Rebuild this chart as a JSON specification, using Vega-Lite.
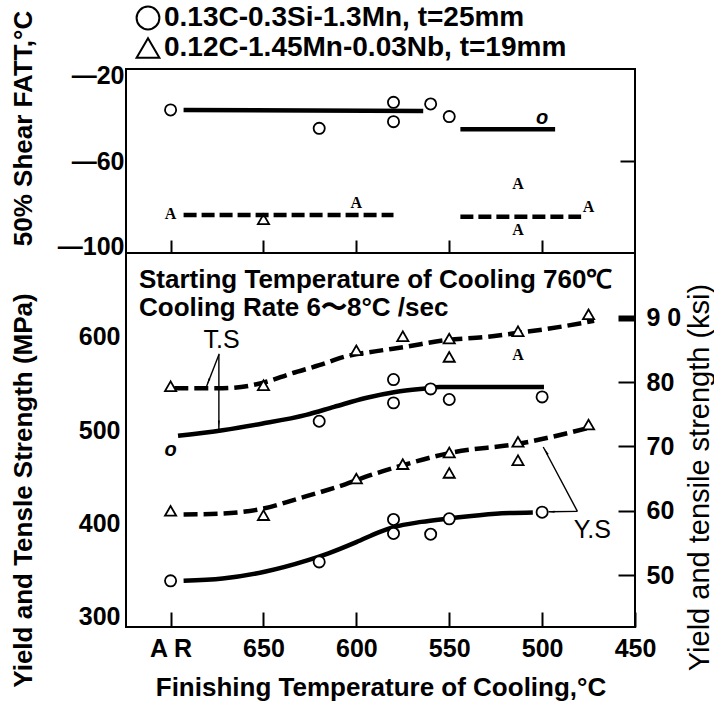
{
  "$schema": "https://vega.github.io/schema/vega-lite/v6.json",
  "background": "white",
  "padding": {"left": 8, "top": 3, "right": 2, "bottom": 1},
  "spacing": 0,
  "bounds": "flush",
  "config": {
    "view": {"stroke": "black", "strokeWidth": 2},
    "axis": {
      "grid": false,
      "domainColor": "black",
      "domainWidth": 2,
      "tickColor": "black",
      "labelColor": "black",
      "titleColor": "black",
      "labelFlush": false,
      "labelOverlap": false
    }
  },
  "datasets": {
    "fattPts": [
      {"steel": "0.13C-0.3Si-1.3Mn, t=25mm", "T": 700, "fatt": -37.8},
      {"steel": "0.13C-0.3Si-1.3Mn, t=25mm", "T": 620, "fatt": -45.8},
      {"steel": "0.13C-0.3Si-1.3Mn, t=25mm", "T": 580, "fatt": -34.5},
      {"steel": "0.13C-0.3Si-1.3Mn, t=25mm", "T": 580, "fatt": -42.9},
      {"steel": "0.13C-0.3Si-1.3Mn, t=25mm", "T": 560, "fatt": -35.2},
      {"steel": "0.13C-0.3Si-1.3Mn, t=25mm", "T": 550, "fatt": -40.7},
      {"steel": "0.13C-0.3Si-1.3Mn, t=25mm", "T": 500, "fatt": -41.4, "glyph": "o"},
      {"steel": "0.12C-1.45Mn-0.03Nb, t=19mm", "T": 700, "fatt": -83.2, "glyph": "A"},
      {"steel": "0.12C-1.45Mn-0.03Nb, t=19mm", "T": 650, "fatt": -85.3},
      {"steel": "0.12C-1.45Mn-0.03Nb, t=19mm", "T": 600, "fatt": -78.1, "glyph": "A"},
      {"steel": "0.12C-1.45Mn-0.03Nb, t=19mm", "T": 513, "fatt": -70.1, "glyph": "A"},
      {"steel": "0.12C-1.45Mn-0.03Nb, t=19mm", "T": 513, "fatt": -90.0, "glyph": "A"},
      {"steel": "0.12C-1.45Mn-0.03Nb, t=19mm", "T": 475, "fatt": -79.9, "glyph": "A"}
    ],
    "fattLines": [
      {"steel": "0.13C-0.3Si-1.3Mn, t=25mm", "seg": "C1", "T": 693, "fatt": -37.8},
      {"steel": "0.13C-0.3Si-1.3Mn, t=25mm", "seg": "C1", "T": 564, "fatt": -38.3},
      {"steel": "0.13C-0.3Si-1.3Mn, t=25mm", "seg": "C2", "T": 544, "fatt": -46.2},
      {"steel": "0.13C-0.3Si-1.3Mn, t=25mm", "seg": "C2", "T": 493, "fatt": -46.2},
      {"steel": "0.12C-1.45Mn-0.03Nb, t=19mm", "seg": "N1", "T": 693, "fatt": -83.5},
      {"steel": "0.12C-1.45Mn-0.03Nb, t=19mm", "seg": "N1", "T": 580, "fatt": -83.5},
      {"steel": "0.12C-1.45Mn-0.03Nb, t=19mm", "seg": "N2", "T": 544, "fatt": -84.2},
      {"steel": "0.12C-1.45Mn-0.03Nb, t=19mm", "seg": "N2", "T": 479, "fatt": -84.2}
    ],
    "strPts": [
      {"steel": "0.13C-0.3Si-1.3Mn, t=25mm", "prop": "TS", "T": 700, "mpa": 479.3, "glyph": "o"},
      {"steel": "0.13C-0.3Si-1.3Mn, t=25mm", "prop": "TS", "T": 620, "mpa": 509.6},
      {"steel": "0.13C-0.3Si-1.3Mn, t=25mm", "prop": "TS", "T": 580, "mpa": 554.3},
      {"steel": "0.13C-0.3Si-1.3Mn, t=25mm", "prop": "TS", "T": 580, "mpa": 529.3},
      {"steel": "0.13C-0.3Si-1.3Mn, t=25mm", "prop": "TS", "T": 560, "mpa": 544.3},
      {"steel": "0.13C-0.3Si-1.3Mn, t=25mm", "prop": "TS", "T": 550, "mpa": 532.9},
      {"steel": "0.13C-0.3Si-1.3Mn, t=25mm", "prop": "TS", "T": 500, "mpa": 535.7},
      {"steel": "0.12C-1.45Mn-0.03Nb, t=19mm", "prop": "TS", "T": 700, "mpa": 547.2},
      {"steel": "0.12C-1.45Mn-0.03Nb, t=19mm", "prop": "TS", "T": 650, "mpa": 548.2},
      {"steel": "0.12C-1.45Mn-0.03Nb, t=19mm", "prop": "TS", "T": 600, "mpa": 585.7},
      {"steel": "0.12C-1.45Mn-0.03Nb, t=19mm", "prop": "TS", "T": 575, "mpa": 600.8},
      {"steel": "0.12C-1.45Mn-0.03Nb, t=19mm", "prop": "TS", "T": 550, "mpa": 598.3},
      {"steel": "0.12C-1.45Mn-0.03Nb, t=19mm", "prop": "TS", "T": 550, "mpa": 578.6},
      {"steel": "0.12C-1.45Mn-0.03Nb, t=19mm", "prop": "TS", "T": 513, "mpa": 606.1},
      {"steel": "0.12C-1.45Mn-0.03Nb, t=19mm", "prop": "TS", "T": 513, "mpa": 580.4, "glyph": "A"},
      {"steel": "0.12C-1.45Mn-0.03Nb, t=19mm", "prop": "TS", "T": 475, "mpa": 624.3},
      {"steel": "0.13C-0.3Si-1.3Mn, t=25mm", "prop": "YS", "T": 700, "mpa": 338.5},
      {"steel": "0.13C-0.3Si-1.3Mn, t=25mm", "prop": "YS", "T": 620, "mpa": 358.8},
      {"steel": "0.13C-0.3Si-1.3Mn, t=25mm", "prop": "YS", "T": 580, "mpa": 404.3},
      {"steel": "0.13C-0.3Si-1.3Mn, t=25mm", "prop": "YS", "T": 580, "mpa": 389.3},
      {"steel": "0.13C-0.3Si-1.3Mn, t=25mm", "prop": "YS", "T": 560, "mpa": 388.5},
      {"steel": "0.13C-0.3Si-1.3Mn, t=25mm", "prop": "YS", "T": 550, "mpa": 405.0},
      {"steel": "0.13C-0.3Si-1.3Mn, t=25mm", "prop": "YS", "T": 500, "mpa": 412.1},
      {"steel": "0.12C-1.45Mn-0.03Nb, t=19mm", "prop": "YS", "T": 700, "mpa": 413.5},
      {"steel": "0.12C-1.45Mn-0.03Nb, t=19mm", "prop": "YS", "T": 650, "mpa": 408.9},
      {"steel": "0.12C-1.45Mn-0.03Nb, t=19mm", "prop": "YS", "T": 600, "mpa": 448.2},
      {"steel": "0.12C-1.45Mn-0.03Nb, t=19mm", "prop": "YS", "T": 575, "mpa": 463.6},
      {"steel": "0.12C-1.45Mn-0.03Nb, t=19mm", "prop": "YS", "T": 550, "mpa": 476.1},
      {"steel": "0.12C-1.45Mn-0.03Nb, t=19mm", "prop": "YS", "T": 550, "mpa": 454.2},
      {"steel": "0.12C-1.45Mn-0.03Nb, t=19mm", "prop": "YS", "T": 513, "mpa": 487.5},
      {"steel": "0.12C-1.45Mn-0.03Nb, t=19mm", "prop": "YS", "T": 513, "mpa": 467.8},
      {"steel": "0.12C-1.45Mn-0.03Nb, t=19mm", "prop": "YS", "T": 475, "mpa": 506.1}
    ],
    "strLines": [
      {"steel": "0.12C-1.45Mn-0.03Nb, t=19mm", "curve": "TS-Nb", "T": 698, "mpa": 545},
      {"steel": "0.12C-1.45Mn-0.03Nb, t=19mm", "curve": "TS-Nb", "T": 672, "mpa": 545},
      {"steel": "0.12C-1.45Mn-0.03Nb, t=19mm", "curve": "TS-Nb", "T": 650, "mpa": 551},
      {"steel": "0.12C-1.45Mn-0.03Nb, t=19mm", "curve": "TS-Nb", "T": 635, "mpa": 560.8},
      {"steel": "0.12C-1.45Mn-0.03Nb, t=19mm", "curve": "TS-Nb", "T": 620, "mpa": 569.7},
      {"steel": "0.12C-1.45Mn-0.03Nb, t=19mm", "curve": "TS-Nb", "T": 606, "mpa": 579},
      {"steel": "0.12C-1.45Mn-0.03Nb, t=19mm", "curve": "TS-Nb", "T": 590, "mpa": 584.5},
      {"steel": "0.12C-1.45Mn-0.03Nb, t=19mm", "curve": "TS-Nb", "T": 574, "mpa": 589.3},
      {"steel": "0.12C-1.45Mn-0.03Nb, t=19mm", "curve": "TS-Nb", "T": 552, "mpa": 596.5},
      {"steel": "0.12C-1.45Mn-0.03Nb, t=19mm", "curve": "TS-Nb", "T": 530, "mpa": 600},
      {"steel": "0.12C-1.45Mn-0.03Nb, t=19mm", "curve": "TS-Nb", "T": 516, "mpa": 603.6},
      {"steel": "0.12C-1.45Mn-0.03Nb, t=19mm", "curve": "TS-Nb", "T": 496, "mpa": 609},
      {"steel": "0.12C-1.45Mn-0.03Nb, t=19mm", "curve": "TS-Nb", "T": 472, "mpa": 617.2},
      {"steel": "0.13C-0.3Si-1.3Mn, t=25mm", "curve": "TS-C", "T": 696, "mpa": 494},
      {"steel": "0.13C-0.3Si-1.3Mn, t=25mm", "curve": "TS-C", "T": 672, "mpa": 500},
      {"steel": "0.13C-0.3Si-1.3Mn, t=25mm", "curve": "TS-C", "T": 651, "mpa": 507},
      {"steel": "0.13C-0.3Si-1.3Mn, t=25mm", "curve": "TS-C", "T": 627, "mpa": 516.5},
      {"steel": "0.13C-0.3Si-1.3Mn, t=25mm", "curve": "TS-C", "T": 612, "mpa": 525},
      {"steel": "0.13C-0.3Si-1.3Mn, t=25mm", "curve": "TS-C", "T": 595, "mpa": 534.5},
      {"steel": "0.13C-0.3Si-1.3Mn, t=25mm", "curve": "TS-C", "T": 579, "mpa": 541},
      {"steel": "0.13C-0.3Si-1.3Mn, t=25mm", "curve": "TS-C", "T": 563, "mpa": 544.7},
      {"steel": "0.13C-0.3Si-1.3Mn, t=25mm", "curve": "TS-C", "T": 555, "mpa": 546.2},
      {"steel": "0.13C-0.3Si-1.3Mn, t=25mm", "curve": "TS-C", "T": 530, "mpa": 546.4},
      {"steel": "0.13C-0.3Si-1.3Mn, t=25mm", "curve": "TS-C", "T": 499, "mpa": 546.2},
      {"steel": "0.12C-1.45Mn-0.03Nb, t=19mm", "curve": "YS-Nb", "T": 693, "mpa": 409.6},
      {"steel": "0.12C-1.45Mn-0.03Nb, t=19mm", "curve": "YS-Nb", "T": 672, "mpa": 410.7},
      {"steel": "0.12C-1.45Mn-0.03Nb, t=19mm", "curve": "YS-Nb", "T": 650, "mpa": 416},
      {"steel": "0.12C-1.45Mn-0.03Nb, t=19mm", "curve": "YS-Nb", "T": 631, "mpa": 426.8},
      {"steel": "0.12C-1.45Mn-0.03Nb, t=19mm", "curve": "YS-Nb", "T": 606, "mpa": 442},
      {"steel": "0.12C-1.45Mn-0.03Nb, t=19mm", "curve": "YS-Nb", "T": 592, "mpa": 452},
      {"steel": "0.12C-1.45Mn-0.03Nb, t=19mm", "curve": "YS-Nb", "T": 574, "mpa": 463},
      {"steel": "0.12C-1.45Mn-0.03Nb, t=19mm", "curve": "YS-Nb", "T": 550, "mpa": 475.5},
      {"steel": "0.12C-1.45Mn-0.03Nb, t=19mm", "curve": "YS-Nb", "T": 512, "mpa": 485.7},
      {"steel": "0.12C-1.45Mn-0.03Nb, t=19mm", "curve": "YS-Nb", "T": 473, "mpa": 503.5},
      {"steel": "0.13C-0.3Si-1.3Mn, t=25mm", "curve": "YS-C", "T": 693, "mpa": 338.5},
      {"steel": "0.13C-0.3Si-1.3Mn, t=25mm", "curve": "YS-C", "T": 672, "mpa": 341},
      {"steel": "0.13C-0.3Si-1.3Mn, t=25mm", "curve": "YS-C", "T": 650, "mpa": 348},
      {"steel": "0.13C-0.3Si-1.3Mn, t=25mm", "curve": "YS-C", "T": 626, "mpa": 360.7},
      {"steel": "0.13C-0.3Si-1.3Mn, t=25mm", "curve": "YS-C", "T": 615, "mpa": 368},
      {"steel": "0.13C-0.3Si-1.3Mn, t=25mm", "curve": "YS-C", "T": 600, "mpa": 380},
      {"steel": "0.13C-0.3Si-1.3Mn, t=25mm", "curve": "YS-C", "T": 588, "mpa": 390.5},
      {"steel": "0.13C-0.3Si-1.3Mn, t=25mm", "curve": "YS-C", "T": 580, "mpa": 396},
      {"steel": "0.13C-0.3Si-1.3Mn, t=25mm", "curve": "YS-C", "T": 565, "mpa": 401.7},
      {"steel": "0.13C-0.3Si-1.3Mn, t=25mm", "curve": "YS-C", "T": 550, "mpa": 405.4},
      {"steel": "0.13C-0.3Si-1.3Mn, t=25mm", "curve": "YS-C", "T": 525, "mpa": 410.5},
      {"steel": "0.13C-0.3Si-1.3Mn, t=25mm", "curve": "YS-C", "T": 505, "mpa": 411.8}
    ],
    "headNotes": [
      {"T": 717, "mpa": 661, "note": "Starting Temperature of Cooling 760℃"},
      {"T": 717, "mpa": 631, "note": "Cooling Rate 6〜8°C /sec"}
    ],
    "curveNotes": [
      {"T": 672.5, "mpa": 596.5, "note": "T.S"},
      {"T": 473, "mpa": 392.8, "note": "Y.S"}
    ],
    "arrows": [
      {"T": 673.8, "mpa": 582, "T2": 680.6, "mpa2": 547},
      {"T": 674, "mpa": 581, "T2": 674, "mpa2": 501},
      {"T": 481, "mpa": 413, "T2": 496.5, "mpa2": 412.5},
      {"T": 481, "mpa": 413, "T2": 499.4, "mpa2": 482}
    ],
    "heads": [
      {"T": 679.5, "mpa": 553, "dir": 201},
      {"T": 674, "mpa": 508, "dir": 180},
      {"T": 494.5, "mpa": 412.5, "dir": 270},
      {"T": 497.5, "mpa": 476, "dir": 332}
    ]
  },
  "resolve": {
    "scale": {"shape": "independent"},
    "legend": {"shape": "independent"}
  },
  "vconcat": [
    {
      "width": 509,
      "height": 184,
      "encoding": {
        "x": {
          "field": "T", "type": "quantitative",
          "scale": {"domain": [450, 724], "reverse": true, "nice": false, "zero": false},
          "axis": {"values": [700, 650, 600, 550, 500], "labels": false, "tickSize": -13, "tickWidth": 2, "title": null, "domain": false}
        }
      },
      "resolve": {"axis": {"y": "independent"}},
      "layer": [
        {
          "data": {"name": "fattLines"},
          "transform": [{"filter": "!test(/Nb/, datum.steel)"}],
          "mark": {"type": "line", "color": "black", "strokeWidth": 4.5},
          "encoding": {
            "y": {
              "field": "fatt", "type": "quantitative",
              "scale": {"domain": [-100, -20], "nice": false, "zero": false},
              "axis": {
                "orient": "left", "values": [-20, -60, -100], "ticks": false, "domain": false,
                "labelExpr": "'—' + (-datum.value)",
                "labelFont": "Liberation Sans, Arial, sans-serif",
                "labelFontSize": 25, "labelFontWeight": "bold", "labelPadding": 2,
                "labelFlush": true, "labelFlushOffset": 6,
                "title": "50% Shear FATT,°C",
                "titleFont": "Liberation Sans, Arial, sans-serif", "titleFontSize": 26, "titleFontWeight": "bold",
                "titleX": -90, "titleY": 59
              }
            },
            "detail": {"field": "seg"}
          }
        },
        {
          "data": {"name": "fattLines"},
          "transform": [{"filter": "test(/Nb/, datum.steel)"}],
          "mark": {"type": "line", "color": "black", "strokeWidth": 4.5, "strokeDash": [13, 5]},
          "encoding": {
            "y": {"field": "fatt", "type": "quantitative", "axis": null},
            "detail": {"field": "seg"}
          }
        },
        {
          "data": {"name": "fattPts"},
          "transform": [{"filter": "!datum.glyph"}],
          "mark": {"type": "point", "filled": false, "color": "black", "strokeWidth": 1.8, "size": 125, "opacity": 1},
          "encoding": {
            "y": {
              "field": "fatt", "type": "quantitative",
              "axis": {"orient": "right", "values": [-60], "labels": false, "tickSize": -15, "tickWidth": 2, "domain": false, "title": null}
            },
            "shape": {
              "field": "steel", "type": "nominal",
              "scale": {"domain": ["0.13C-0.3Si-1.3Mn, t=25mm", "0.12C-1.45Mn-0.03Nb, t=19mm"], "range": ["circle", "triangle-up"]},
              "legend": {
                "orient": "top", "direction": "vertical", "offset": 7, "title": null, "padding": 0,
                "symbolOffset": 8,
                "symbolSize": 520, "symbolStrokeWidth": 2, "symbolStrokeColor": "black", "symbolFillColor": "transparent",
                "labelFont": "Liberation Sans, Arial, sans-serif",
                "labelFontSize": 28, "labelFontWeight": "bold", "labelColor": "black",
                "labelOffset": 2, "rowPadding": 0, "labelLimit": 500
              }
            }
          }
        },
        {
          "data": {"name": "fattPts"},
          "transform": [{"filter": "datum.glyph == 'A'"}],
          "mark": {"type": "text", "font": "Liberation Serif, DejaVu Serif, serif", "fontWeight": "bold", "fontSize": 16, "color": "black", "baseline": "middle"},
          "encoding": {
            "y": {"field": "fatt", "type": "quantitative", "axis": null},
            "text": {"field": "glyph"}
          }
        },
        {
          "data": {"name": "fattPts"},
          "transform": [{"filter": "datum.glyph == 'o'"}],
          "mark": {"type": "text", "font": "Liberation Sans, Arial, sans-serif", "fontStyle": "italic", "fontWeight": "bold", "fontSize": 20, "color": "black", "baseline": "middle"},
          "encoding": {
            "y": {"field": "fatt", "type": "quantitative", "axis": null},
            "text": {"field": "glyph"}
          }
        }
      ]
    },
    {
      "width": 509,
      "height": 374,
      "encoding": {
        "x": {
          "field": "T", "type": "quantitative",
          "scale": {"domain": [450, 724], "reverse": true, "nice": false, "zero": false},
          "axis": {
            "values": [700, 650, 600, 550, 500, 450], "tickSize": -15, "tickWidth": 2, "domain": false,
            "labelExpr": "datum.value == 700 ? 'A R' : datum.label",
            "labelFont": "Liberation Sans, Arial, sans-serif",
            "labelFontSize": 25, "labelFontWeight": "bold", "labelPadding": 24,
            "title": "Finishing Temperature of Cooling,°C",
            "titleFont": "Liberation Sans, Arial, sans-serif", "titleFontSize": 26, "titleFontWeight": "bold",
            "titlePadding": 13
          }
        }
      },
      "resolve": {"axis": {"y": "independent"}},
      "layer": [
        {
          "data": {"name": "strLines"},
          "transform": [{"filter": "!test(/Nb/, datum.steel)"}],
          "mark": {"type": "line", "color": "black", "strokeWidth": 4.5, "interpolate": "monotone"},
          "encoding": {
            "y": {
              "field": "mpa", "type": "quantitative",
              "scale": {"domain": [289, 690], "nice": false, "zero": false},
              "axis": {
                "orient": "left", "values": [300, 400, 500, 600], "ticks": false, "domain": false,
                "labelFont": "Liberation Sans, Arial, sans-serif",
                "labelFontSize": 25, "labelFontWeight": "bold", "labelPadding": 6,
                "title": "Yield and Tensle Strength (MPa)",
                "titleFont": "Liberation Sans, Arial, sans-serif", "titleFontSize": 26, "titleFontWeight": "bold",
                "titleX": -90, "titleY": 237
              }
            },
            "detail": {"field": "curve"}
          }
        },
        {
          "data": {"name": "strLines"},
          "transform": [{"filter": "test(/Nb/, datum.steel)"}],
          "mark": {"type": "line", "color": "black", "strokeWidth": 4.5, "interpolate": "monotone", "strokeDash": [14, 6]},
          "encoding": {
            "y": {"field": "mpa", "type": "quantitative", "axis": null},
            "detail": {"field": "curve"}
          }
        },
        {
          "data": {"name": "strPts"},
          "transform": [{"filter": "!datum.glyph"}],
          "mark": {"type": "point", "filled": true, "fill": "white", "stroke": "black", "strokeWidth": 1.8, "size": 125, "opacity": 1},
          "encoding": {
            "y": {
              "field": "mpa", "type": "quantitative",
              "axis": {
                "orient": "right", "values": [344.74, 413.69, 482.63, 551.58, 620.53],
                "labelExpr": "datum.value > 600 ? '9 0' : format(datum.value / 6.8948, '.0f')",
                "tickSize": -17,
                "tickWidth": {"condition": {"test": "datum.value > 600", "value": 6}, "value": 2},
                "domain": false,
                "labelFont": "Liberation Sans, Arial, sans-serif",
                "labelFontSize": 25, "labelFontWeight": "bold", "labelPadding": 28,
                "title": "Yield and tensile strength (ksi)",
                "titleFont": "Liberation Sans, Arial, sans-serif", "titleFontSize": 29, "titleFontWeight": "normal",
                "titleAngle": -90, "titleBaseline": "top", "titleX": 50, "titleY": 224
              }
            },
            "shape": {
              "field": "steel", "type": "nominal",
              "scale": {"domain": ["0.13C-0.3Si-1.3Mn, t=25mm", "0.12C-1.45Mn-0.03Nb, t=19mm"], "range": ["circle", "triangle-up"]},
              "legend": null
            }
          }
        },
        {
          "data": {"name": "strPts"},
          "transform": [{"filter": "datum.glyph == 'A'"}],
          "mark": {"type": "text", "font": "Liberation Serif, DejaVu Serif, serif", "fontWeight": "bold", "fontSize": 16, "color": "black", "baseline": "middle"},
          "encoding": {
            "y": {"field": "mpa", "type": "quantitative", "axis": null},
            "text": {"field": "glyph"}
          }
        },
        {
          "data": {"name": "strPts"},
          "transform": [{"filter": "datum.glyph == 'o'"}],
          "mark": {"type": "text", "font": "Liberation Sans, Arial, sans-serif", "fontStyle": "italic", "fontWeight": "bold", "fontSize": 20, "color": "black", "baseline": "middle"},
          "encoding": {
            "y": {"field": "mpa", "type": "quantitative", "axis": null},
            "text": {"field": "glyph"}
          }
        },
        {
          "data": {"name": "headNotes"},
          "mark": {"type": "text", "font": "Liberation Sans, Arial, sans-serif", "fontWeight": "bold", "fontSize": 26, "color": "black", "align": "left", "baseline": "middle"},
          "encoding": {
            "y": {"field": "mpa", "type": "quantitative", "axis": null},
            "text": {"field": "note"}
          }
        },
        {
          "data": {"name": "curveNotes"},
          "mark": {"type": "text", "font": "Liberation Sans, Arial, sans-serif", "fontSize": 25, "color": "black", "align": "center", "baseline": "middle"},
          "encoding": {
            "y": {"field": "mpa", "type": "quantitative", "axis": null},
            "text": {"field": "note"}
          }
        },
        {
          "data": {"name": "arrows"},
          "mark": {"type": "rule", "color": "black", "strokeWidth": 1.4},
          "encoding": {
            "x2": {"field": "T2"},
            "y": {"field": "mpa", "type": "quantitative", "axis": null},
            "y2": {"field": "mpa2"}
          }
        },
        {
          "data": {"name": "heads"},
          "mark": {"type": "point", "shape": "wedge", "filled": true, "color": "black", "size": 60, "opacity": 1},
          "encoding": {
            "y": {"field": "mpa", "type": "quantitative", "axis": null},
            "angle": {"field": "dir", "type": "quantitative", "scale": null}
          }
        }
      ]
    }
  ]
}
